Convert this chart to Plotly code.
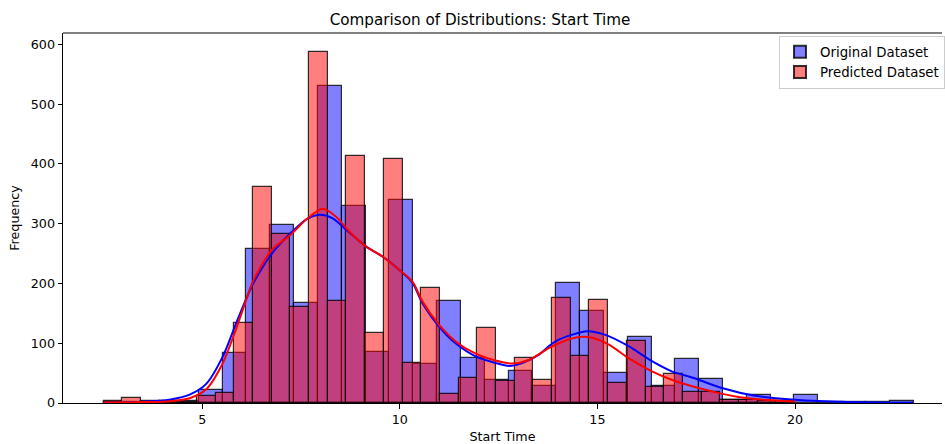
import plotly.graph_objects as go

# ---------------- data ----------------
blue_bin_start = 2.5
blue_bin_width = 0.603
blue_counts = [1, 2, 1, 3, 21, 84, 258, 298, 167, 530, 330, 86, 340, 65, 170, 75, 38,
               54, 29, 201, 154, 50, 110, 28, 73, 40, 5, 13, 3, 13, 2, 1, 1, 4]

red_bin_start = 2.5
red_bin_width = 0.473
red_counts = [4, 8, 3, 3, 2, 11, 16, 134, 361, 283, 161, 588, 170, 413, 117, 408, 67,
              192, 15, 41, 125, 36, 75, 38, 176, 79, 172, 34, 103, 27, 49, 18, 18, 5, 5, 4, 4]

blue_kde_x = [2.5, 3.5, 4.2, 4.68, 5.1, 5.52, 5.86, 6.11, 6.28, 6.76, 7.23, 7.63, 7.96, 8.30,
              8.64, 9.14, 9.56, 9.98, 10.32, 10.57, 10.99, 11.41, 11.92, 12.42, 12.76, 13.1,
              13.52, 13.77, 14.02, 14.74, 15.2, 15.79, 16.38, 16.88, 17.3, 17.56, 18.15, 18.99,
              20.0, 21.35, 23.0]
blue_kde_y = [0.5, 2, 6, 14, 32, 78, 134, 174, 199, 250, 284, 307, 315, 309,
              290, 262, 245, 223, 201, 167, 128, 100, 78, 67, 62, 67,
              81, 95, 106, 120, 114, 95, 70, 53, 44.5, 39, 25, 12,
              5.5, 1.7, 0.3]

red_kde_x = [2.5, 3.5, 4.2, 4.68, 5.1, 5.52, 5.86, 6.15, 6.28, 6.76, 7.23, 7.63, 8.05, 8.38,
             8.72, 9.14, 9.56, 9.98, 10.32, 10.57, 10.99, 11.41, 11.92, 12.42, 12.84, 13.26,
             13.77, 14.02, 14.49, 14.86, 15.29, 15.79, 16.38, 16.88, 17.56, 18.0, 18.5, 19.2, 20.0]
red_kde_y = [0.8, 1.5, 3, 8, 23, 67, 125, 180, 203, 256, 281, 307, 325, 312,
             287, 262, 245, 223, 203, 170, 131, 103, 82.5, 71, 66, 72,
             92, 100, 110, 109, 97.5, 75, 53, 39, 25, 17.8, 11, 5.5, 2.7]

labels = ["Original Dataset", "Predicted Dataset"]
x_ticks = [5, 10, 15, 20]
y_ticks = [0, 100, 200, 300, 400, 500, 600]

# ---------------- figure ----------------
FONT = "DejaVu Sans"
EDGE = "rgba(0,0,0,0.8)"

def centers(start, width, n):
    return [start + width * (i + 0.5) for i in range(n)]

fig = go.Figure()
fig.add_trace(go.Bar(
    x=centers(blue_bin_start, blue_bin_width, len(blue_counts)), y=blue_counts,
    width=blue_bin_width, name=labels[0],
    marker=dict(color="rgba(0,0,255,0.5)", line=dict(color=EDGE, width=1.2)),
))
fig.add_trace(go.Bar(
    x=centers(red_bin_start, red_bin_width, len(red_counts)), y=red_counts,
    width=red_bin_width, name=labels[1],
    marker=dict(color="rgba(255,0,0,0.5)", line=dict(color=EDGE, width=1.2)),
))
fig.add_trace(go.Scatter(x=blue_kde_x, y=blue_kde_y, mode="lines", showlegend=False,
                         line=dict(color="blue", width=2, shape="spline", smoothing=0.8)))
fig.add_trace(go.Scatter(x=red_kde_x, y=red_kde_y, mode="lines", showlegend=False,
                         line=dict(color="red", width=2, shape="spline", smoothing=0.8)))

fig.update_layout(
    width=945, height=444,
    margin=dict(l=63, r=0, t=33, b=41),
    barmode="overlay", bargap=0,
    plot_bgcolor="white", paper_bgcolor="white",
    font=dict(family=FONT, size=12.7, color="black"),
    title=dict(text="Comparison of Distributions: Start Time", x=0.508, xanchor="center",
               y=0.955, yanchor="middle", font=dict(size=15.2, family=FONT, color="black")),
    legend=dict(x=0.815, y=0.993, xanchor="left", yanchor="top",
                bgcolor="rgba(255,255,255,0.8)", bordercolor="#cccccc", borderwidth=1,
                font=dict(size=13.3, family=FONT), tracegroupgap=0, itemsizing="constant"),
    xaxis=dict(range=[1.475, 23.72], tickvals=x_ticks, ticks="outside", ticklen=4.5,
               tickcolor="black", showline=True, linecolor="black", linewidth=1,
               showgrid=False, zeroline=False,
               title=dict(text="Start Time", standoff=6, font=dict(size=12.7))),
    yaxis=dict(range=[0, 619], tickvals=y_ticks, ticks="outside", ticklen=4.5,
               tickcolor="black", showline=True, linecolor="black", linewidth=1,
               showgrid=False, zeroline=False,
               title=dict(text="Frequency", standoff=8, font=dict(size=12.7))),
    shapes=[dict(type="line", xref="paper", yref="paper", x0=0, x1=1, y0=1, y1=1,
                 line=dict(color="black", width=1))],
)

fig.write_html("out.html")
